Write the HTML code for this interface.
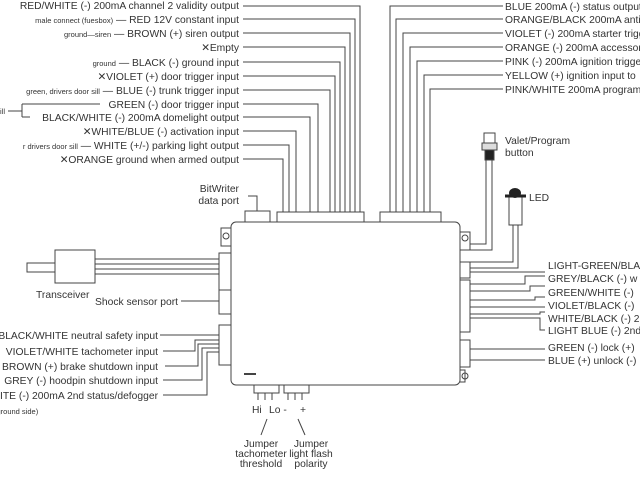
<!DOCTYPE html>
<html><head><meta charset="utf-8"><style>
html,body{margin:0;padding:0;background:#fff}
svg{display:block}
text{font-family:"Liberation Sans",sans-serif;font-size:10.3px;fill:#333}
.s{font-size:7.5px}
</style></head><body>
<svg width="640" height="480" viewBox="0 0 640 480" xmlns="http://www.w3.org/2000/svg">
<g stroke="#444" stroke-width="1" fill="none">
<path d="M243 6H360V212M243 19H355V212M243 33H350V212M243 47H345V212M243 62H340V212M243 76H335V212M243 90H330V212M243 104H318V212M243 117H310V212M243 131H296V212M243 145H289V212M243 159H283V212"/>
<path d="M503 6H390V212M503 19H396V212M503 33H403V212M503 47H410V212M503 61H417V212M503 75H424V212M503 89H430V212"/>
<path d="M8 111H22M22 104V117M22 104H100M22 117H30"/>
<rect x="231" y="222" width="229" height="163" rx="5"/>
<rect x="277" y="212" width="87" height="10"/>
<rect x="380" y="212" width="61" height="10"/>
<rect x="245" y="211" width="25" height="11"/>
<path d="M257 211V196H248"/>
<path d="M231 228h-10v18h10M460 232h10v18h-10M460 382h5v-12h-5"/>
<circle cx="226" cy="236" r="3"/><circle cx="465" cy="238" r="3"/><circle cx="465" cy="376" r="3"/>
<rect x="219" y="253" width="12" height="37"/>
<rect x="219" y="290" width="12" height="24"/>
<rect x="219" y="325" width="12" height="40"/>
<path d="M181 301H219"/>
<rect x="55" y="250" width="40" height="33"/>
<rect x="27" y="263" width="28" height="9"/>
<path d="M95 259H219M95 264H219M95 269H219M95 274H219"/>
<path d="M160 335H219M163 351H195V340H219M165 366H198V344H219M163 380H202V348H219M163 395H207V352H219"/>
<rect x="460" y="262" width="10" height="16"/>
<rect x="460" y="280" width="10" height="52"/>
<rect x="460" y="340" width="10" height="27"/>
<path d="M470 244H486V160M470 250H492V160M470 262H513V225M470 268H518V225"/>
<path d="M470 272H545M470 284H525V276H545M470 291H530V286H545M470 300H535V297H545M470 307H545M470 314H540V312H545M470 318H540V330H545M470 349H545M470 360H545"/>
<rect x="254" y="385" width="25" height="8"/>
<rect x="284" y="385" width="25" height="8"/>
<path d="M258 393v7M265 393v7M272 393v7M288 393v7M295 393v7M302 393v7"/>
<path d="M267 419L261 435M298 419L305 435"/>
<rect x="484" y="133" width="11" height="10" fill="#fff"/>
<rect x="482" y="143" width="15" height="7" fill="#ddd"/>
<rect x="485" y="150" width="9" height="10" fill="#222"/>
<rect x="509" y="196" width="13" height="29"/>
<path d="M505 196h21" stroke-width="3" stroke="#222"/>
</g>
<ellipse cx="515" cy="193" rx="6" ry="5" fill="#222"/>
<rect x="244" y="373" width="12" height="2" fill="#444"/>
<g>
<text x="239" y="9" text-anchor="end">RED/WHITE (-) 200mA channel 2 validity output</text>
<text x="239" y="23" text-anchor="end"><tspan class="s">male connect (fuesbox)</tspan> — RED 12V constant input</text>
<text x="239" y="37" text-anchor="end"><tspan class="s">ground—siren</tspan> — BROWN  (+) siren output</text>
<text x="239" y="51" text-anchor="end">✕Empty</text>
<text x="239" y="66" text-anchor="end"><tspan class="s">ground</tspan> — BLACK (-) ground input</text>
<text x="239" y="80" text-anchor="end">✕VIOLET (+) door trigger input</text>
<text x="239" y="94" text-anchor="end"><tspan class="s">green, drivers door sill</tspan> — BLUE (-) trunk trigger input</text>
<text x="239" y="108" text-anchor="end">GREEN (-) door trigger input</text>
<text x="239" y="121" text-anchor="end">BLACK/WHITE (-) 200mA domelight output</text>
<text x="239" y="135" text-anchor="end">✕WHITE/BLUE (-) activation input</text>
<text x="239" y="149" text-anchor="end"><tspan class="s">r drivers door sill</tspan> — WHITE (+/-) parking light output</text>
<text x="239" y="163" text-anchor="end">✕ORANGE ground when armed output</text>
<text x="0" y="114" class="s">ill</text>
<text x="505" y="10">BLUE 200mA (-) status output</text>
<text x="505" y="23">ORANGE/BLACK 200mA anti</text>
<text x="505" y="37">VIOLET (-) 200mA starter trigger</text>
<text x="505" y="51">ORANGE (-) 200mA accessory</text>
<text x="505" y="65">PINK (-) 200mA ignition trigger</text>
<text x="505" y="79">YELLOW (+) ignition input to</text>
<text x="505" y="93">PINK/WHITE 200mA program</text>
<text x="505" y="144">Valet/Program</text>
<text x="505" y="156">button</text>
<text x="529" y="201">LED</text>
<text x="239" y="192" text-anchor="end">BitWriter</text>
<text x="239" y="204" text-anchor="end">data port</text>
<text x="36" y="298">Transceiver</text>
<text x="178" y="305" text-anchor="end">Shock sensor port</text>
<text x="158" y="339" text-anchor="end">BLACK/WHITE neutral safety input</text>
<text x="158" y="355" text-anchor="end">VIOLET/WHITE tachometer input</text>
<text x="158" y="370" text-anchor="end">BROWN (+) brake shutdown input</text>
<text x="158" y="384" text-anchor="end">GREY (-) hoodpin shutdown input</text>
<text x="158" y="399" text-anchor="end">WHITE (-) 200mA 2nd status/defogger</text>
<text x="-6" y="414" class="s">(ground side)</text>
<text x="548" y="269">LIGHT-GREEN/BLACK</text>
<text x="548" y="282">GREY/BLACK (-) w</text>
<text x="548" y="296">GREEN/WHITE (-)</text>
<text x="548" y="309">VIOLET/BLACK (-)</text>
<text x="548" y="322">WHITE/BLACK (-) 2</text>
<text x="548" y="334">LIGHT BLUE (-) 2nd</text>
<text x="548" y="351">GREEN (-) lock (+)</text>
<text x="548" y="364">BLUE (+) unlock (-)</text>
<text x="252" y="413">Hi</text><text x="269" y="413">Lo -</text><text x="300" y="413">+</text>
<text x="261" y="447" text-anchor="middle">Jumper</text>
<text x="261" y="457" text-anchor="middle">tachometer</text>
<text x="261" y="467" text-anchor="middle">threshold</text>
<text x="311" y="447" text-anchor="middle">Jumper</text>
<text x="311" y="457" text-anchor="middle">light flash</text>
<text x="311" y="467" text-anchor="middle">polarity</text>
</g>
</svg>
</body></html>
